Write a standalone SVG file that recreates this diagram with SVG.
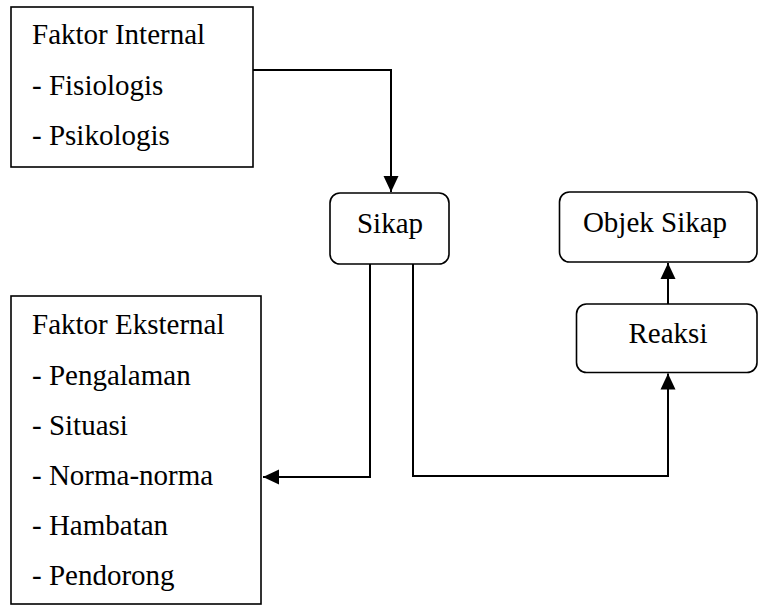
<svg xmlns="http://www.w3.org/2000/svg" width="758" height="605" viewBox="0 0 758 605">
<style>
.box{fill:#fff;stroke:#000;stroke-width:1.6}
text{font-family:'Liberation Serif','Times New Roman',serif;font-size:29px;fill:#000}
.c{text-anchor:middle}
.ln{fill:none;stroke:#000;stroke-width:2}
</style>
<defs>
<marker id="ah" markerUnits="userSpaceOnUse" markerWidth="18" markerHeight="18" viewBox="0 0 18 18" refX="16" refY="9" orient="auto">
<path d="M0,1.5 L16,9 L0,16.5 Z" fill="#000"/>
</marker>
</defs>
<rect width="758" height="605" fill="#fff"/>
<g id="connectors">
<path class="ln" d="M250,70 H391 V192" marker-end="url(#ah)"/>
<path class="ln" d="M370,264 V477 H263" marker-end="url(#ah)"/>
<path class="ln" d="M413,264 V476 H668 V373.5" marker-end="url(#ah)"/>
<path class="ln" d="M668,304 V263" marker-end="url(#ah)"/>
</g>
<g id="faktor-internal">
<rect class="box" x="11" y="7" width="242" height="160"/>
<text x="32" y="44">Faktor Internal</text>
<text x="32" y="95">- Fisiologis</text>
<text x="32" y="145">- Psikologis</text>
</g>
<g id="faktor-eksternal">
<rect class="box" x="11" y="296" width="250" height="308"/>
<text x="32" y="334">Faktor Eksternal</text>
<text x="32" y="385">- Pengalaman</text>
<text x="32" y="435">- Situasi</text>
<text x="32" y="485">- Norma-norma</text>
<text x="32" y="535">- Hambatan</text>
<text x="32" y="585">- Pendorong</text>
</g>
<g id="sikap">
<rect class="box" x="330" y="193" width="119" height="71" rx="10"/>
<text class="c" x="390" y="233">Sikap</text>
</g>
<g id="objek-sikap">
<rect class="box" x="559.5" y="192" width="197.5" height="70" rx="10"/>
<text class="c" x="655" y="232">Objek Sikap</text>
</g>
<g id="reaksi">
<rect class="box" x="576.5" y="304" width="180.5" height="68.5" rx="10"/>
<text class="c" x="668" y="343">Reaksi</text>
</g>
</svg>
